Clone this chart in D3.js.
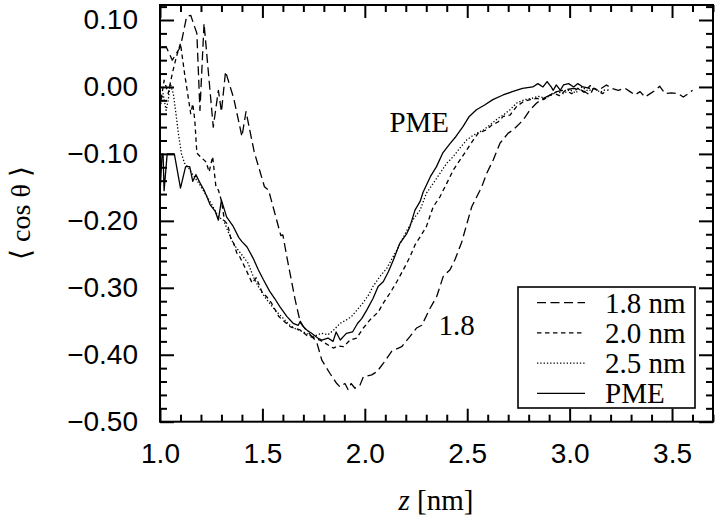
<!DOCTYPE html>
<html><head><meta charset="utf-8">
<script src="https://cdn.jsdelivr.net/npm/d3@7/dist/d3.min.js"></script>
<style>body{margin:0;background:#fff}svg{display:block}</style>
</head><body>
<svg id="chart" width="720" height="518"></svg>
<script>
// ---- data ----
const seriesNames = ["1.8 nm", "2.0 nm", "2.5 nm", "PME"];

const cut18 = [[1.01,0.06],[1.03,0.06],[1.06,0.04],[1.10,0.06],[1.13,0.105],[1.15,0.107],[1.18,0.08],[1.195,-0.035],[1.215,0.095],[1.26,-0.06],[1.285,-0.005],[1.30,-0.037],[1.32,0.023],[1.36,-0.017],[1.40,-0.074],[1.42,-0.037],[1.46,-0.097],[1.51,-0.149],[1.53,-0.154],[1.59,-0.222],[1.60,-0.221],[1.62,-0.255],[1.66,-0.318],[1.68,-0.345],[1.685,-0.352],[1.70,-0.358],[1.765,-0.381],[1.79,-0.408],[1.83,-0.428],[1.863,-0.443],[1.879,-0.448],[1.903,-0.443],[1.918,-0.452],[1.933,-0.443],[1.952,-0.45],[1.977,-0.445],[1.993,-0.433],[2.034,-0.430],[2.06,-0.425],[2.09,-0.413],[2.131,-0.395],[2.164,-0.39],[2.18,-0.388],[2.22,-0.373],[2.253,-0.36],[2.278,-0.356],[2.318,-0.331],[2.351,-0.313],[2.383,-0.283],[2.416,-0.273],[2.44,-0.258],[2.473,-0.232],[2.494,-0.209],[2.522,-0.179],[2.571,-0.149],[2.595,-0.129],[2.627,-0.109],[2.66,-0.084],[2.70,-0.069],[2.725,-0.064],[2.758,-0.054],[2.774,-0.049],[2.807,-0.034],[2.839,-0.024],[2.872,-0.017],[2.904,-0.012],[2.937,-0.007],[2.969,-0.005],[3.018,-0.002],[3.06,-0.005],[3.10,-0.012],[3.116,-0.002],[3.14,-0.005],[3.18,0.003],[3.205,-0.002],[3.238,-0.005],[3.27,-0.002],[3.295,-0.007],[3.319,-0.012],[3.344,-0.007],[3.368,-0.015],[3.393,-0.01],[3.418,-0.005],[3.44,0.001],[3.466,-0.01],[3.498,-0.009],[3.53,-0.01],[3.555,-0.015],[3.58,-0.01],[3.60,-0.005]];

const cut20 = [[1.00,-0.03],[1.02,0.01],[1.04,-0.01],[1.06,0.02],[1.08,0.045],[1.10,0.065],[1.12,0.02],[1.14,-0.02],[1.15,-0.04],[1.16,-0.025],[1.17,-0.05],[1.18,-0.099],[1.20,-0.105],[1.225,-0.112],[1.24,-0.127],[1.257,-0.104],[1.273,-0.149],[1.285,-0.154],[1.30,-0.17],[1.315,-0.20],[1.33,-0.205],[1.345,-0.225],[1.36,-0.234],[1.375,-0.248],[1.39,-0.254],[1.42,-0.273],[1.45,-0.293],[1.47,-0.285],[1.50,-0.308],[1.52,-0.313],[1.545,-0.323],[1.58,-0.343],[1.61,-0.351],[1.635,-0.358],[1.684,-0.363],[1.716,-0.371],[1.78,-0.378],[1.846,-0.39],[1.87,-0.387],[1.895,-0.388],[1.928,-0.378],[1.96,-0.375],[1.993,-0.36],[2.025,-0.348],[2.066,-0.336],[2.09,-0.323],[2.123,-0.308],[2.156,-0.291],[2.188,-0.273],[2.22,-0.254],[2.245,-0.236],[2.27,-0.224],[2.30,-0.209],[2.334,-0.179],[2.367,-0.164],[2.40,-0.144],[2.432,-0.124],[2.465,-0.109],[2.498,-0.094],[2.53,-0.079],[2.554,-0.069],[2.595,-0.064],[2.62,-0.057],[2.652,-0.052],[2.676,-0.044],[2.709,-0.042],[2.742,-0.029],[2.774,-0.022],[2.807,-0.019],[2.839,-0.017],[2.872,-0.019],[2.896,-0.014],[2.92,-0.009],[2.95,-0.013],[2.98,-0.005],[3.01,-0.01],[3.04,-0.002],[3.07,-0.008],[3.10,0.002],[3.13,-0.004],[3.16,-0.01],[3.19,-0.004]];

const cut25 = [[1.00,-0.03],[1.015,-0.01],[1.03,-0.035],[1.04,-0.02],[1.05,0.005],[1.065,-0.01],[1.08,-0.045],[1.09,-0.07],[1.105,-0.10],[1.12,-0.114],[1.14,-0.121],[1.16,-0.131],[1.19,-0.144],[1.22,-0.159],[1.25,-0.174],[1.285,-0.194],[1.31,-0.199],[1.33,-0.214],[1.35,-0.229],[1.37,-0.239],[1.40,-0.251],[1.43,-0.263],[1.455,-0.283],[1.48,-0.298],[1.51,-0.313],[1.535,-0.323],[1.57,-0.336],[1.60,-0.345],[1.63,-0.355],[1.66,-0.361],[1.70,-0.366],[1.745,-0.373],[1.79,-0.368],[1.82,-0.370],[1.845,-0.364],[1.88,-0.353],[1.91,-0.348],[1.935,-0.343],[1.96,-0.334],[1.99,-0.323],[2.02,-0.31],[2.04,-0.298],[2.074,-0.283],[2.107,-0.271],[2.13,-0.258],[2.156,-0.244],[2.18,-0.229],[2.21,-0.212],[2.24,-0.196],[2.27,-0.184],[2.30,-0.159],[2.334,-0.144],[2.367,-0.129],[2.40,-0.114],[2.432,-0.104],[2.465,-0.091],[2.498,-0.079],[2.53,-0.072],[2.58,-0.064],[2.61,-0.057],[2.65,-0.047],[2.676,-0.042],[2.709,-0.034],[2.742,-0.024],[2.78,-0.019],[2.815,-0.017],[2.847,-0.014],[2.88,-0.017],[2.913,-0.012],[2.937,-0.007],[2.97,-0.01],[3.00,-0.004],[3.03,-0.009],[3.06,0.0],[3.09,-0.006],[3.12,-0.002],[3.15,-0.008],[3.18,-0.003]];

const pme = [[1.00,-0.16],[1.01,-0.10],[1.015,-0.10],[1.02,-0.155],[1.035,-0.10],[1.07,-0.10],[1.10,-0.151],[1.125,-0.119],[1.145,-0.119],[1.16,-0.141],[1.175,-0.131],[1.20,-0.146],[1.215,-0.154],[1.245,-0.176],[1.27,-0.186],[1.285,-0.199],[1.30,-0.169],[1.325,-0.194],[1.355,-0.207],[1.385,-0.225],[1.40,-0.231],[1.425,-0.239],[1.455,-0.256],[1.48,-0.273],[1.505,-0.288],[1.535,-0.305],[1.56,-0.316],[1.585,-0.328],[1.62,-0.343],[1.65,-0.353],[1.675,-0.356],[1.685,-0.350],[1.70,-0.358],[1.72,-0.364],[1.74,-0.368],[1.77,-0.375],[1.79,-0.378],[1.82,-0.375],[1.845,-0.380],[1.86,-0.366],[1.88,-0.378],[1.91,-0.368],[1.94,-0.366],[1.965,-0.353],[1.985,-0.346],[2.01,-0.333],[2.04,-0.316],[2.065,-0.298],[2.09,-0.291],[2.115,-0.276],[2.14,-0.258],[2.155,-0.246],[2.17,-0.234],[2.205,-0.219],[2.22,-0.209],[2.245,-0.184],[2.27,-0.171],[2.285,-0.157],[2.32,-0.134],[2.35,-0.119],[2.38,-0.099],[2.415,-0.085],[2.445,-0.074],[2.48,-0.059],[2.51,-0.044],[2.545,-0.034],[2.585,-0.027],[2.625,-0.019],[2.675,-0.012],[2.72,-0.007],[2.77,-0.002],[2.82,0.000],[2.845,0.005],[2.87,0.000],[2.89,0.008],[2.91,0.000],[2.92,-0.005],[2.935,0.003],[2.955,-0.005],[2.97,0.003],[2.995,0.005],[3.02,0.000],[3.04,0.005],[3.065,0.000],[3.10,-0.002]];

const xTickValues = [1.0, 1.5, 2.0, 2.5, 3.0, 3.5];
const yTickValues = [0.10, 0.00, -0.10, -0.20, -0.30, -0.40, -0.50];
const curveLabels = [{text: "PME", z: 2.12, v: -0.068}, {text: "1.8", z: 2.36, v: -0.37}];

// ---- drawing ----
const svg = d3.select("#chart");
const L = 160, R = 713, T = 5, B = 421.7;
const x = d3.scaleLinear().domain([1.0, 3.7]).range([L, R]);
const y = d3.scaleLinear().domain([-0.5, 0.1224]).range([B, T]);

const xMinor = d3.range(10, 38).map(d => d / 10).filter(d => Math.round(d * 10) % 5 !== 0);
const yMinor = d3.range(-25, 7).map(d => d / 50).filter(d => Math.round(d * 50) % 5 !== 0);

const tickFont = "'Liberation Sans', Arial, Helvetica, sans-serif";
const serif = "'Liberation Serif', 'Times New Roman', Times, serif";

function styleAxis(g, labels) {
  g.select(".domain").remove();
  g.selectAll(".tick line").attr("stroke", "#000").attr("stroke-width", 2);
  if (labels) g.selectAll(".tick text").attr("font-family", tickFont).attr("font-size", 28).attr("fill", "#000");
  else g.selectAll(".tick text").remove();
}

// bottom
svg.append("g").attr("transform", `translate(0,${B})`)
  .call(d3.axisBottom(x).tickValues(xTickValues).tickSizeInner(-13).tickSizeOuter(0).tickPadding(21).tickFormat(d3.format(".1f")))
  .call(g => styleAxis(g, true));
svg.append("g").attr("transform", `translate(0,${B})`)
  .call(d3.axisBottom(x).tickValues(xMinor).tickSizeInner(-7).tickSizeOuter(0))
  .call(g => styleAxis(g, false));
// top
svg.append("g").attr("transform", `translate(0,${T})`)
  .call(d3.axisTop(x).tickValues(xTickValues).tickSizeInner(-13).tickSizeOuter(0))
  .call(g => styleAxis(g, false));
svg.append("g").attr("transform", `translate(0,${T})`)
  .call(d3.axisTop(x).tickValues(xMinor).tickSizeInner(-7).tickSizeOuter(0))
  .call(g => styleAxis(g, false));
// left
svg.append("g").attr("transform", `translate(${L},0)`)
  .call(d3.axisLeft(y).tickValues(yTickValues).tickSizeInner(-14).tickSizeOuter(0).tickPadding(22).tickFormat(d3.format(".2f")))
  .call(g => styleAxis(g, true));
svg.append("g").attr("transform", `translate(${L},0)`)
  .call(d3.axisLeft(y).tickValues(yMinor).tickSizeInner(-7).tickSizeOuter(0))
  .call(g => styleAxis(g, false));
// right
svg.append("g").attr("transform", `translate(${R},0)`)
  .call(d3.axisRight(y).tickValues(yTickValues).tickSizeInner(-14).tickSizeOuter(0))
  .call(g => styleAxis(g, false));
svg.append("g").attr("transform", `translate(${R},0)`)
  .call(d3.axisRight(y).tickValues(yMinor).tickSizeInner(-7).tickSizeOuter(0))
  .call(g => styleAxis(g, false));

// clip + lines
svg.append("defs").append("clipPath").attr("id", "plotclip")
  .append("rect").attr("x", L).attr("y", T).attr("width", R - L).attr("height", B - T);

const dashes = ["9,4.5", "4.5,3.5", "1.3,2", null];
const seriesData = [cut18, cut20, cut25, pme];
const line = d3.line().x(d => x(d[0])).y(d => y(d[1]));

const plot = svg.append("g").attr("clip-path", "url(#plotclip)");
seriesData.forEach((s, i) => {
  plot.append("path").datum(s).attr("d", line)
    .attr("fill", "none").attr("stroke", "#000").attr("stroke-width", 1.3)
    .attr("stroke-linejoin", "round")
    .attr("stroke-dasharray", dashes[i]);
});

// frame
svg.append("rect").attr("x", L).attr("y", T).attr("width", R - L).attr("height", B - T)
  .attr("fill", "none").attr("stroke", "#000").attr("stroke-width", 2);

// curve labels
curveLabels.forEach(c => {
  svg.append("text").attr("x", x(c.z)).attr("y", y(c.v))
    .attr("font-family", serif).attr("font-size", 29).attr("fill", "#000").text(c.text);
});

// legend
const lg = svg.append("g");
lg.append("rect").attr("x", 518).attr("y", 287).attr("width", 177).attr("height", 121)
  .attr("fill", "#fff").attr("stroke", "#000").attr("stroke-width", 1.6);
seriesNames.forEach((n, i) => {
  const yy = 302.7 + i * 30.2;
  lg.append("line").attr("x1", 537).attr("x2", 585).attr("y1", yy).attr("y2", yy)
    .attr("stroke", "#000").attr("stroke-width", 1.3).attr("stroke-dasharray", dashes[i]);
  lg.append("text").attr("x", 605).attr("y", yy + 10)
    .attr("font-family", serif).attr("font-size", 29).attr("fill", "#000").text(n);
});

// axis titles
const xt = svg.append("text").attr("x", 436).attr("y", 510).attr("text-anchor", "middle")
  .attr("font-family", serif).attr("font-size", 29).attr("fill", "#000");
xt.append("tspan").attr("font-style", "italic").text("z");
xt.append("tspan").text(" [nm]");

svg.append("text").attr("transform", "translate(30,213) rotate(-90)").attr("text-anchor", "middle")
  .attr("font-family", serif).attr("font-size", 28).attr("fill", "#000").text("\u27E8 cos \u03B8 \u27E9");
</script>
</body></html>
